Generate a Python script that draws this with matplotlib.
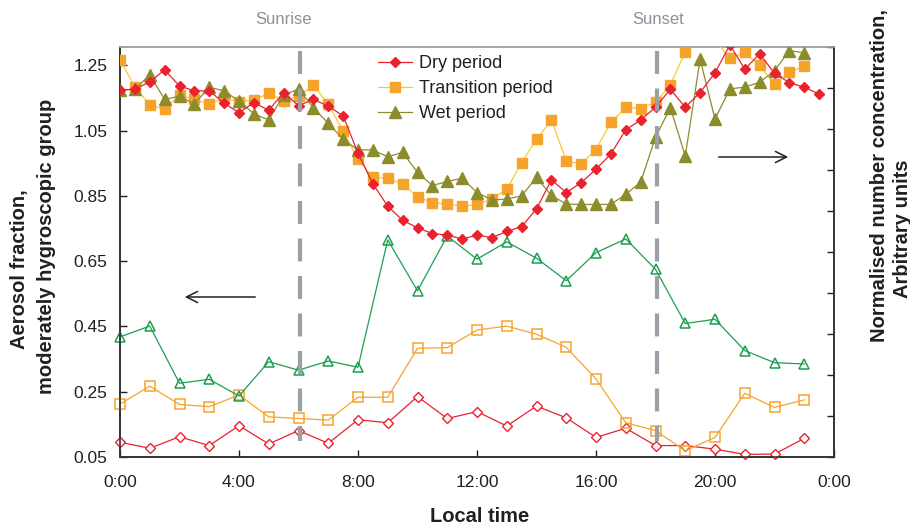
import numpy as np
import matplotlib
matplotlib.use("Agg")
import matplotlib.pyplot as plt

plt.rcParams['font.family'] = ['Liberation Sans', 'DejaVu Sans']

# ---------------- data ----------------
hours_half = np.arange(0, 24, 0.5)          # 0:00 ... 23:30
hours = np.arange(0, 24, 1.0)               # 0:00 ... 23:00

# Normalised number concentration (right axis, arbitrary units)
dry_conc = [0.895, 0.897, 0.915, 0.944, 0.905, 0.893, 0.893, 0.863, 0.840, 0.864,
            0.846, 0.889, 0.857, 0.872, 0.856, 0.832, 0.741, 0.666, 0.612, 0.577,
            0.559, 0.545, 0.541, 0.532, 0.541, 0.535, 0.550, 0.562, 0.605, 0.676,
            0.645, 0.669, 0.702, 0.739, 0.798, 0.822, 0.853, 0.897, 0.853, 0.889,
            0.937, 1.005, 0.946, 0.983, 0.936, 0.913, 0.902, 0.885]
trans_conc = [0.968, 0.903, 0.859, 0.848, 0.883, 0.872, 0.861, 0.875, 0.867, 0.871,
              0.887, 0.869, 0.880, 0.907, 0.861, 0.795, 0.726, 0.682, 0.680, 0.666,
              0.635, 0.620, 0.617, 0.611, 0.616, 0.629, 0.653, 0.718, 0.775, 0.822,
              0.722, 0.715, 0.750, 0.816, 0.853, 0.850, 0.865, 0.907, 0.989, 1.023,
              1.018, 0.972, 0.987, 0.955, 0.909, 0.938, 0.954]
wet_conc = [0.895, 0.897, 0.932, 0.872, 0.880, 0.861, 0.902, 0.893, 0.868, 0.837,
            0.822, 0.883, 0.897, 0.852, 0.814, 0.775, 0.749, 0.749, 0.732, 0.743,
            0.694, 0.662, 0.672, 0.680, 0.645, 0.627, 0.629, 0.637, 0.682, 0.638,
            0.617, 0.616, 0.616, 0.616, 0.641, 0.670, 0.780, 0.852, 0.734, 0.970,
            0.824, 0.898, 0.902, 0.914, 0.942, 0.991, 0.986]

# Aerosol fraction, moderately hygroscopic group (left axis)
wet_frac = [0.418, 0.451, 0.276, 0.288, 0.237, 0.342, 0.316, 0.344, 0.325, 0.715,
            0.559, 0.727, 0.656, 0.709, 0.659, 0.590, 0.676, 0.718, 0.625, 0.459,
            0.472, 0.376, 0.339, 0.335]
trans_frac = [0.212, 0.267, 0.211, 0.204, 0.240, 0.173, 0.168, 0.163, 0.233, 0.233,
              0.383, 0.385, 0.439, 0.451, 0.426, 0.386, 0.289, 0.155, 0.131, 0.069,
              0.110, 0.245, 0.202, 0.225]
dry_frac = [0.095, 0.077, 0.112, 0.085, 0.146, 0.090, 0.131, 0.092, 0.164, 0.155,
            0.235, 0.168, 0.189, 0.145, 0.206, 0.170, 0.110, 0.138, 0.085, 0.085,
            0.074, 0.058, 0.059, 0.107]

x_ticks = [0, 4, 8, 12, 16, 20, 24]
x_ticklabels = ["0:00", "4:00", "8:00", "12:00", "16:00", "20:00", "0:00"]
y_ticks = [0.05, 0.25, 0.45, 0.65, 0.85, 1.05, 1.25]
labels = ["Dry period", "Transition period", "Wet period"]
sun_times = [6, 18]
sun_labels = ["Sunrise", "Sunset"]

# ---------------- style ----------------
RED = "#e8232d"
ORANGE = "#f6a32c"
YELLOW = "#fdc82f"
OLIVE = "#8c8c2c"
GREEN = "#1d9f52"
GREY = "#9aa0a6"
TXT = "#231f20"

W, H = 910, 525
fig = plt.figure(figsize=(W / 100, H / 100), dpi=100)
L, R, B, T = 120, 834, 457, 47
ax = fig.add_axes([L / W, 1 - B / H, (R - L) / W, (B - T) / H])
ax2 = ax.twinx()

# lower (left axis) open-marker series
ax.plot(hours, dry_frac, color=RED, lw=0.9, marker="D", ms=5.5, mfc="white",
        mec=RED, mew=1.0, clip_on=False, zorder=3)
ax.plot(hours, trans_frac, color=ORANGE, lw=0.9, marker="s", ms=7, mfc="none",
        mec=ORANGE, mew=1.1, clip_on=False, zorder=3)
ax.plot(hours, wet_frac, color=GREEN, lw=0.9, marker="^", ms=7.5, mfc="none",
        mec=GREEN, mew=1.1, clip_on=False, zorder=3)

ax.set_xlim(0, 24)
ax.set_ylim(0.05, 1.306)
ax.set_xticks(x_ticks)
ax.set_xticklabels(x_ticklabels)
ax.set_yticks(y_ticks)
ax.set_yticklabels([f"{v:.2f}" for v in y_ticks])
ax.tick_params(axis="y", direction="in", length=5, pad=9, labelsize=12.5,
               colors=TXT, width=1)
ax.tick_params(axis="x", direction="in", length=5, pad=13, labelsize=12.5,
               colors=TXT, width=1)

# upper (right axis) filled-marker series
l1, = ax2.plot(hours_half, dry_conc, color=RED, lw=0.9, marker="D", ms=5.5,
               mfc=RED, mec=RED, zorder=4, label=labels[0])
l2, = ax2.plot(hours_half[:len(trans_conc)], trans_conc, color=YELLOW, lw=0.9,
               marker="s", ms=7, mfc=ORANGE, mec=ORANGE, zorder=3, label=labels[1])
l3, = ax2.plot(hours_half[:len(wet_conc)], wet_conc, color=OLIVE, lw=0.9,
               marker="^", ms=8, mfc=OLIVE, mec=OLIVE, zorder=3, label=labels[2])
ax2.set_ylim(0, 1.0)
ax2.set_yticks(np.arange(0, 1.01, 0.1))
ax2.set_yticklabels([])
ax2.tick_params(axis="y", direction="in", length=5, width=1, colors=TXT)

for a in (ax, ax2):
    for s in ("left", "bottom", "right"):
        a.spines[s].set_color("#333333")
        a.spines[s].set_linewidth(1.2)
    a.spines["top"].set_color("#a0a4a8")
    a.spines["top"].set_linewidth(1.2)

# sunrise / sunset dashed lines
for t, lab in zip(sun_times, sun_labels):
    ax2.plot([t + 0.06, t + 0.06], [0.99, 0.04], transform=ax2.get_xaxis_transform(),
             color=GREY, lw=3, linestyle=(0, (5.5, 3.5)), zorder=6, clip_on=False)
fig.text(284 / W, 1 - 20 / H, sun_labels[0], color="#8a9199", fontsize=12,
         ha="center", va="center")
fig.text(658 / W, 1 - 20 / H, sun_labels[1], color="#8a9199", fontsize=12,
         ha="center", va="center")

# arrows
fig.add_artist(matplotlib.patches.FancyArrowPatch(
    (258 / W, 1 - 297 / H), (182 / W, 1 - 297 / H), transform=fig.transFigure,
    arrowstyle="->,head_length=8,head_width=4", color=TXT, lw=1.1, mutation_scale=1))
fig.add_artist(matplotlib.patches.FancyArrowPatch(
    (716 / W, 1 - 157 / H), (791 / W, 1 - 157 / H), transform=fig.transFigure,
    arrowstyle="->,head_length=8,head_width=4", color=TXT, lw=1.1, mutation_scale=1))

# legend
leg = ax2.legend(handles=[l1, l2, l3], loc="upper left", frameon=False,
                 bbox_to_anchor=(378 / W, 1 - 55 / H), bbox_transform=fig.transFigure,
                 fontsize=13, handlelength=1.9, handletextpad=0.35,
                 labelspacing=0.45, borderaxespad=0, borderpad=0)
for t in leg.get_texts():
    t.set_color(TXT)

# axis titles
fig.text(20 / W, 1 - 269 / H, "Aerosol fraction,", rotation=90, fontsize=14.5,
         fontweight="bold", ha="center", va="center", color=TXT)
fig.text(47 / W, 1 - 246 / H, "moderately hygroscopic group", rotation=90,
         fontsize=14.5, fontweight="bold", ha="center", va="center", color=TXT)
fig.text(879 / W, 1 - 176 / H, "Normalised number concentration,", rotation=90,
         fontsize=14.5, fontweight="bold", ha="center", va="center", color=TXT)
fig.text(902 / W, 1 - 229 / H, "Arbitrary units", rotation=90, fontsize=14.5,
         fontweight="bold", ha="center", va="center", color=TXT)
fig.text(480 / W, 1 - 516 / H, "Local time", fontsize=14.5, fontweight="bold",
         ha="center", va="center", color=TXT)

fig.savefig("out.png", dpi=100)
